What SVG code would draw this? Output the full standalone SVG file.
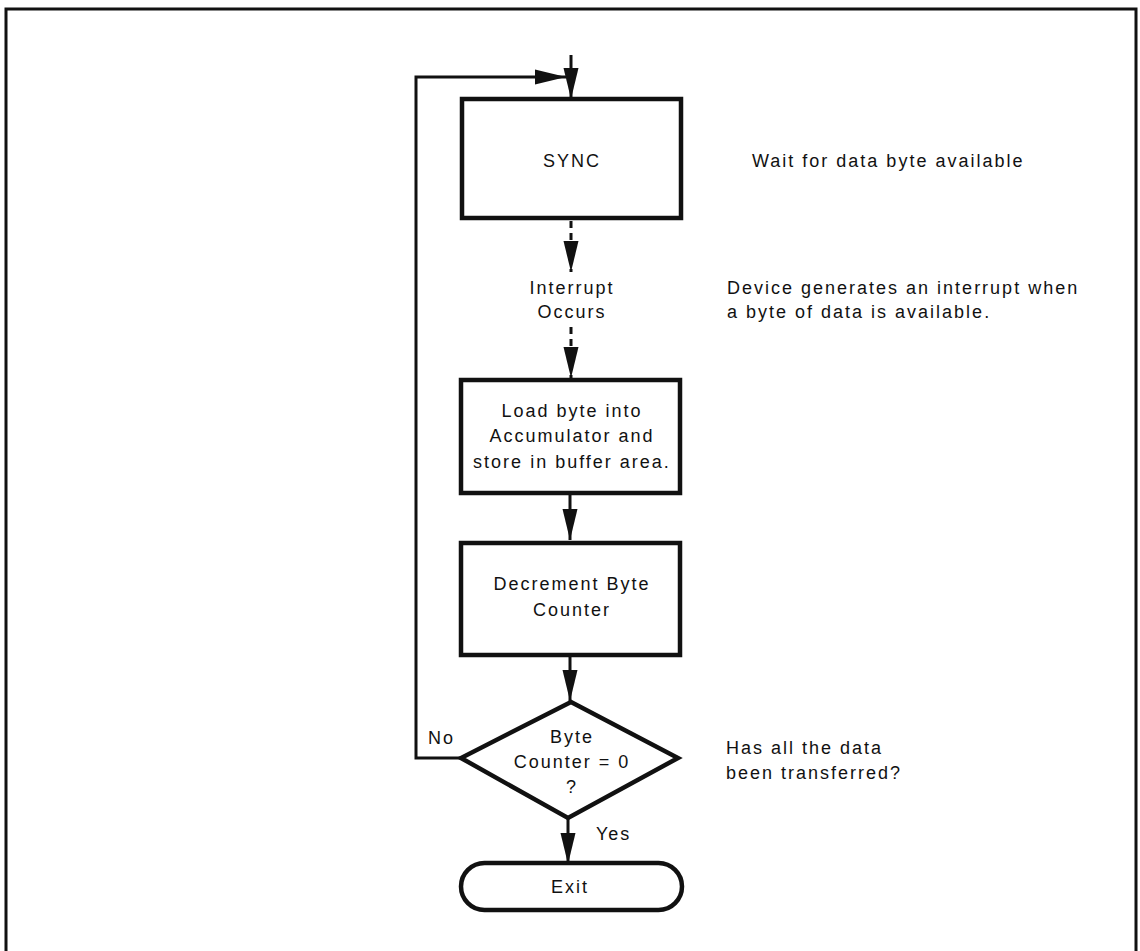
<svg xmlns="http://www.w3.org/2000/svg" width="1140" height="951" viewBox="0 0 1140 951">
<style>
  text { font-family: "Liberation Sans", Arial, sans-serif; font-size: 18px; letter-spacing: 2px; fill: #111; }
  .c { text-anchor: middle; }
  .box { fill: #fff; stroke: #111; stroke-width: 4.5; }
  .ln { fill: none; stroke: #111; stroke-width: 3; }
  .dash { fill: none; stroke: #111; stroke-width: 3; stroke-dasharray: 7 5; }
</style>
<defs>
  <marker id="ah" markerUnits="userSpaceOnUse" markerWidth="32" markerHeight="16" refX="31" refY="8" orient="auto">
    <path d="M0,0.5 L31,8 L0,15.5 z" fill="#111"/>
  </marker>
</defs>
<rect width="1140" height="951" fill="#fff"/>
<rect id="frame" x="6" y="9" width="1130" height="960" fill="none" stroke="#111" stroke-width="3"/>

<g id="connectors">
  <line class="ln" x1="571" y1="55" x2="571" y2="99" marker-end="url(#ah)"/>
  <polyline class="ln" points="461,758 416,758 416,77 566,77" marker-end="url(#ah)"/>
  <line class="dash" x1="571" y1="221" x2="571" y2="272" marker-end="url(#ah)"/>
  <line class="dash" x1="571" y1="327" x2="571" y2="378" marker-end="url(#ah)"/>
  <line class="ln" x1="570" y1="495" x2="570" y2="540" marker-end="url(#ah)"/>
  <line class="ln" x1="570" y1="657" x2="570" y2="701" marker-end="url(#ah)"/>
  <line class="ln" x1="568" y1="818" x2="568" y2="864" marker-end="url(#ah)"/>
</g>

<g id="sync">
  <rect class="box" x="462" y="99" width="219" height="119"/>
  <text class="c" x="572" y="167">SYNC</text>
</g>
<g id="interrupt">
  <text class="c" x="572" y="294">Interrupt</text>
  <text class="c" x="572" y="318">Occurs</text>
</g>
<g id="load">
  <rect class="box" x="461" y="380" width="219" height="113"/>
  <text class="c" x="572" y="417">Load byte into</text>
  <text class="c" x="572" y="442">Accumulator and</text>
  <text class="c" x="572" y="468">store in buffer area.</text>
</g>
<g id="decrement">
  <rect class="box" x="461" y="543" width="219" height="112"/>
  <text class="c" x="572" y="590">Decrement Byte</text>
  <text class="c" x="572" y="616">Counter</text>
</g>
<g id="decision">
  <polygon class="box" points="571,702 678,758 568,818 461,758"/>
  <text class="c" x="572" y="743">Byte</text>
  <text class="c" x="572" y="768">Counter = 0</text>
  <text class="c" x="572" y="793">?</text>
  <text x="428" y="744">No</text>
  <text x="596" y="840">Yes</text>
</g>
<g id="exit">
  <rect class="box" x="461" y="863" width="221" height="47" rx="23.5" ry="23.5"/>
  <text class="c" x="570" y="893">Exit</text>
</g>
<g id="notes">
  <text x="752" y="167">Wait for data byte available</text>
  <text x="727" y="294">Device generates an interrupt when</text>
  <text x="727" y="318">a byte of data is available.</text>
  <text x="726" y="754">Has all the data</text>
  <text x="726" y="779">been transferred?</text>
</g>
</svg>
